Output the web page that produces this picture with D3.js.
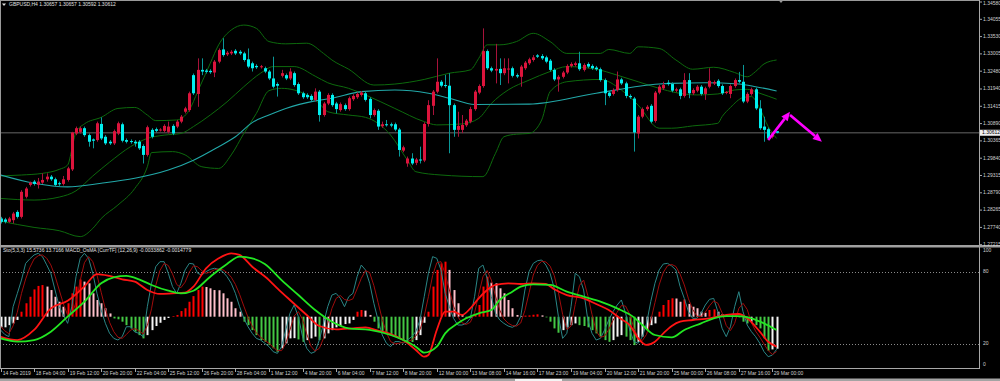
<!DOCTYPE html>
<html>
<head>
<meta charset="utf-8">
<script src="https://cdn.jsdelivr.net/npm/d3@7"></script>
<style>
  html, body { margin: 0; padding: 0; background: #000; overflow: hidden; }
  svg { display: block; }
  text { font-family: "Liberation Sans", Arial, sans-serif; }
</style>
</head>
<body>
<svg id="chart" width="1000" height="381"></svg>
<script>
// ---- candles, GBPUSD H4 (bar index 0 = 14 Feb 2019 20:00, 185 = 29 Mar 04:00)
const opens = [
  1.2801,1.2798,1.2791,1.2796,1.2821,1.2806,1.2867,1.2903,1.2913,1.2903,
  1.2910,1.2920,1.2928,1.2920,1.2908,1.2906,1.2918,1.2950,1.3059,1.3064,
  1.3075,1.3054,1.3041,1.3039,1.3088,1.3049,1.3034,1.3029,1.3059,1.3087,
  1.3039,1.3036,1.3034,1.3034,1.3021,1.2994,1.3070,1.3072,1.3069,1.3067,
  1.3064,1.3082,1.3080,1.3095,1.3125,1.3130,1.3236,1.3179,1.3252,1.3250,
  1.3249,1.3244,1.3277,1.3314,1.3299,1.3302,1.3310,1.3307,1.3302,1.3284,
  1.3272,1.3264,1.3261,1.3257,1.3247,1.3226,1.3209,1.3234,1.3236,1.3226,
  1.3242,1.3209,1.3181,1.3176,1.3173,1.3161,1.3186,1.3115,1.3150,1.3176,
  1.3150,1.3130,1.3145,1.3133,1.3163,1.3169,1.3176,1.3181,1.3164,1.3115,
  1.3128,1.3081,1.3087,1.3087,1.3087,1.3071,1.3007,1.2968,1.2983,1.2970,
  1.2980,1.2977,1.3088,1.3143,1.3186,1.3216,1.3206,1.3204,1.3145,1.3070,
  1.3070,1.3084,1.3095,1.3133,1.3183,1.3203,1.3309,1.3257,1.3250,1.3255,
  1.3242,1.3253,1.3257,1.3236,1.3231,1.3257,1.3272,1.3282,1.3296,1.3294,
  1.3290,1.3280,1.3252,1.3223,1.3231,1.3244,1.3264,1.3267,1.3272,1.3252,
  1.3270,1.3264,1.3259,1.3254,1.3221,1.3183,1.3179,1.3191,1.3223,1.3211,
  1.3173,1.3165,1.3059,1.3110,1.3133,1.3143,1.3097,1.3183,1.3196,1.3213,
  1.3209,1.3189,1.3193,1.3173,1.3221,1.3181,1.3189,1.3201,1.3179,1.3201,
  1.3211,1.3219,1.3203,1.3183,1.3179,1.3203,1.3221,1.3216,1.3156,1.3179,
  1.3193,1.3135,1.3080,1.3072,1.3049,1.30657
];
const highs = [
  1.2806,1.2803,1.2806,1.2821,1.2826,1.2887,1.2897,1.2913,1.2918,1.2924,
  1.2938,1.2938,1.2933,1.2925,1.2913,1.2930,1.2958,1.3064,1.3080,1.3080,
  1.3080,1.3059,1.3044,1.3095,1.3108,1.3054,1.3039,1.3071,1.3095,1.3092,
  1.3044,1.3041,1.3039,1.3039,1.3026,1.3083,1.3075,1.3077,1.3075,1.3087,
  1.3095,1.3087,1.3100,1.3115,1.3140,1.3186,1.3241,1.3287,1.3287,1.3255,
  1.3254,1.3282,1.3317,1.3348,1.3309,1.3312,1.3315,1.3312,1.3307,1.3317,
  1.3277,1.3269,1.3267,1.3262,1.3252,1.3292,1.3214,1.3252,1.3241,1.3257,
  1.3247,1.3214,1.3186,1.3181,1.3178,1.3196,1.3191,1.3155,1.3181,1.3181,
  1.3155,1.3153,1.3150,1.3171,1.3178,1.3184,1.3188,1.3186,1.3169,1.3135,
  1.3133,1.3095,1.3100,1.3092,1.3092,1.3076,1.3022,1.2989,1.2999,1.2985,
  1.3019,1.3093,1.3160,1.3191,1.3287,1.3221,1.3237,1.3242,1.3150,1.3125,
  1.3115,1.3103,1.3140,1.3191,1.3208,1.3378,1.3314,1.3262,1.3331,1.3287,
  1.3287,1.3287,1.3262,1.3241,1.3267,1.3279,1.3289,1.3297,1.3300,1.3300,
  1.3295,1.3285,1.3257,1.3236,1.3249,1.3269,1.3275,1.3277,1.3307,1.3272,
  1.3275,1.3269,1.3264,1.3259,1.3226,1.3188,1.3196,1.3247,1.3228,1.3216,
  1.3178,1.3170,1.3115,1.3138,1.3145,1.3148,1.3188,1.3206,1.3216,1.3221,
  1.3214,1.3198,1.3198,1.3242,1.3242,1.3196,1.3206,1.3206,1.3201,1.3257,
  1.3220,1.3224,1.3208,1.3188,1.3208,1.3226,1.3246,1.3267,1.3184,1.3198,
  1.3198,1.3160,1.3110,1.3077,1.3064,1.30657
];
const lows = [
  1.2786,1.2786,1.2788,1.2786,1.2801,1.2801,1.2862,1.2898,1.2901,1.2892,
  1.2906,1.2913,1.2915,1.2898,1.2900,1.2901,1.2913,1.2945,1.3054,1.3059,
  1.3049,1.3019,1.3014,1.3034,1.3039,1.3024,1.3024,1.3024,1.3054,1.3032,
  1.3029,1.3028,1.3019,1.3009,1.2968,1.2989,1.3044,1.3062,1.3065,1.3062,
  1.3059,1.3054,1.3075,1.3090,1.3120,1.3125,1.3176,1.3140,1.3236,1.3241,
  1.3240,1.3230,1.3272,1.3292,1.3294,1.3297,1.3297,1.3297,1.3277,1.3257,
  1.3247,1.3255,1.3256,1.3242,1.3221,1.3196,1.3171,1.3229,1.3221,1.3221,
  1.3201,1.3176,1.3164,1.3164,1.3156,1.3156,1.3095,1.3110,1.3145,1.3140,
  1.3120,1.3125,1.3128,1.3128,1.3158,1.3164,1.3171,1.3156,1.3105,1.3110,
  1.3070,1.3076,1.3080,1.3078,1.3066,1.2989,1.3002,1.2958,1.2963,1.2963,
  1.2968,1.2972,1.3080,1.3115,1.3181,1.3199,1.3198,1.2999,1.3049,1.3049,
  1.3060,1.3079,1.3090,1.3128,1.3178,1.3198,1.3252,1.3245,1.3211,1.3206,
  1.3236,1.3211,1.3229,1.3227,1.3201,1.3252,1.3267,1.3277,1.3288,1.3282,
  1.3272,1.3247,1.3218,1.3186,1.3226,1.3239,1.3259,1.3262,1.3249,1.3247,
  1.3257,1.3252,1.3249,1.3216,1.3145,1.3168,1.3174,1.3186,1.3206,1.3166,
  1.3164,1.3004,1.3044,1.3105,1.3128,1.3090,1.3092,1.3178,1.3191,1.3204,
  1.3184,1.3184,1.3163,1.3168,1.3166,1.3176,1.3184,1.3174,1.3161,1.3196,
  1.3206,1.3198,1.3176,1.3178,1.3166,1.3198,1.3211,1.3151,1.3151,1.3174,
  1.3130,1.3070,1.3034,1.3039,1.3044,1.30592
];
const closes = [
  1.2791,1.2791,1.2801,1.2816,1.2806,1.2882,1.2892,1.2910,1.2906,1.2913,
  1.2918,1.2928,1.2920,1.2903,1.2905,1.2920,1.2953,1.3062,1.3075,1.3075,
  1.3054,1.3034,1.3037,1.3090,1.3044,1.3029,1.3029,1.3066,1.3090,1.3037,
  1.3034,1.3033,1.3029,1.3014,1.2994,1.3078,1.3049,1.3067,1.3071,1.3082,
  1.3080,1.3059,1.3095,1.3110,1.3135,1.3181,1.3181,1.3252,1.3247,1.3246,
  1.3245,1.3277,1.3312,1.3297,1.3304,1.3307,1.3302,1.3302,1.3282,1.3262,
  1.3257,1.3260,1.3263,1.3247,1.3226,1.3201,1.3204,1.3242,1.3226,1.3247,
  1.3206,1.3181,1.3169,1.3169,1.3161,1.3186,1.3115,1.3150,1.3176,1.3145,
  1.3133,1.3148,1.3133,1.3166,1.3173,1.3179,1.3183,1.3161,1.3115,1.3130,
  1.3080,1.3087,1.3085,1.3083,1.3071,1.3009,1.3017,1.2983,1.2968,1.2980,
  1.2977,1.3088,1.3145,1.3186,1.3216,1.3204,1.3203,1.3145,1.3070,1.3082,
  1.3085,1.3098,1.3133,1.3186,1.3203,1.3309,1.3257,1.3250,1.3255,1.3242,
  1.3257,1.3256,1.3234,1.3232,1.3262,1.3274,1.3284,1.3290,1.3292,1.3287,
  1.3277,1.3252,1.3223,1.3231,1.3244,1.3264,1.3270,1.3272,1.3254,1.3267,
  1.3262,1.3257,1.3254,1.3221,1.3181,1.3173,1.3191,1.3223,1.3211,1.3173,
  1.3169,1.3062,1.3110,1.3133,1.3140,1.3095,1.3183,1.3201,1.3206,1.3209,
  1.3189,1.3193,1.3173,1.3221,1.3181,1.3191,1.3201,1.3179,1.3196,1.3219,
  1.3215,1.3203,1.3181,1.3185,1.3203,1.3221,1.3216,1.3156,1.3179,1.3193,
  1.3135,1.3075,1.3070,1.3044,1.3059,1.30612
];

// ---- overlays, read as [bar, price]
const maLine = [[0,1.2933],[8,1.2908],[16,1.2897],[24,1.2908],[32,1.2923],[40,1.2948],[46,1.2978],
  [52,1.3019],[56,1.3049],[60,1.3092],[64,1.3115],[68,1.3135],[75,1.3158],[79,1.3166],[86,1.3186],
  [94,1.3191],[102,1.3181],[107,1.3166],[113,1.3147],[126,1.3148],[142,1.3181],[157,1.3209],
  [160,1.3211],[168,1.3213],[176,1.3209],[180,1.3201],[185,1.3188]];
const bbUpper = [[0,1.2930],[5,1.2933],[10,1.2938],[14,1.2950],[16,1.2963],[17,1.3010],[18,1.3064],
  [20,1.3088],[24,1.3108],[28,1.3135],[32,1.3138],[35,1.3115],[37,1.3098],[42,1.3100],[45,1.3130],
  [47,1.3186],[50,1.3272],[52,1.3328],[55,1.3373],[58,1.3388],[61,1.3378],[64,1.3338],[68,1.3331],
  [73,1.3333],[77,1.3302],[79,1.3282],[83,1.3254],[89,1.3206],[94,1.3209],[101,1.3223],[107,1.3242],
  [112,1.3252],[114,1.3287],[116,1.3328],[119,1.3328],[123,1.3338],[127,1.3363],[131,1.3338],
  [135,1.3302],[143,1.3302],[145,1.3314],[150,1.3302],[152,1.3322],[157,1.3317],[161,1.3282],
  [165,1.3254],[170,1.3260],[175,1.3244],[178,1.3231],[180,1.3247],[182,1.3270],[185,1.3282]];
const bbMiddle = [[0,1.2862],[8,1.2857],[14,1.2866],[18,1.2885],[22,1.2930],[26,1.2972],[31,1.3019],
  [35,1.3044],[39,1.3054],[43,1.3059],[46,1.3080],[50,1.3115],[54,1.3155],[58,1.3201],[62,1.3242],
  [65,1.3262],[70,1.3262],[75,1.3233],[78,1.3213],[83,1.3196],[87,1.3176],[94,1.3135],[101,1.3095],
  [104,1.3085],[110,1.3088],[114,1.3105],[117,1.3150],[121,1.3191],[126,1.3221],[131,1.3247],
  [135,1.3262],[142,1.3254],[147,1.3236],[152,1.3216],[157,1.3196],[161,1.3183],[166,1.3176],
  [171,1.3179],[175,1.3191],[178,1.3193],[181,1.3181],[185,1.3163]];
const bbLower = [[0,1.2793],[8,1.2774],[14,1.2764],[19,1.2746],[22,1.2771],[24,1.2801],[28,1.2842],
  [32,1.2892],[35,1.2958],[36,1.3001],[41,1.3004],[44,1.2994],[48,1.2958],[52,1.2953],[55,1.2994],
  [58,1.3059],[61,1.3120],[64,1.3189],[67,1.3196],[70,1.3191],[76,1.3150],[78,1.3125],[83,1.3115],
  [87,1.3108],[93,1.3054],[97,1.2978],[99,1.2943],[105,1.2933],[115,1.2928],[118,1.2999],[120,1.3049],
  [123,1.3057],[126,1.3059],[129,1.3100],[131,1.3186],[135,1.3216],[143,1.3223],[148,1.3191],
  [152,1.3145],[157,1.3075],[160,1.3075],[165,1.3082],[171,1.3090],[172,1.3110],[174,1.3138],
  [177,1.3168],[179,1.3171],[181,1.3135],[183,1.3080],[185,1.3044]];
// hand drawn arrows: [fromBar, fromPrice, toBar, toPrice]
const arrows = [[183, 1.3039, 188.2, 1.3125], [188.2, 1.3115, 195.8, 1.3034]];

const priceTicks = [1.34580,1.34055,1.33530,1.33005,1.32480,1.31940,1.31415,1.30890,
  1.30365,1.29840,1.29315,1.28790,1.28265,1.27740,1.27215];
const lastPrice = 1.30612;

// ---- indicator window
const stochK = [
  31.7,28,26.1,51.1,62,73.3,87.2,91,94.2,95.6,
  92.8,86,78.9,65,51.1,44.2,37.2,51.1,76.1,91.4,
  95.6,91.4,78.9,62.2,48.3,37.2,28.9,24.7,23.3,26.1,
  34.4,34.4,30,28.9,26.1,51.1,70.6,84.4,88.6,88.6,
  78.9,67.8,62.2,70.6,81.7,87.2,86.7,78.9,77.5,80.3,
  82.2,83.1,82.2,80.3,76.1,70.6,62.2,51.1,41.4,34.4,
  28.9,24.7,23.3,20.6,17.8,13.6,12.2,17.8,31.7,45.6,
  52.5,42.8,26.1,16.4,12.2,13.6,23.3,37.2,51.1,60.8,
  62.2,58.1,51.1,59.4,62.2,76.1,85.8,81.7,70.6,53.9,
  40,27.5,20.6,17.8,22,22,20.6,23.3,26.1,30.3,
  40,59.4,78.9,92.8,91.4,81.7,62.2,51.1,41.4,35.8,
  35.8,37.2,41.4,59.4,83.1,85.8,74.7,59.4,45.6,40,
  37.2,35,33.9,35.8,42.8,65,80.3,87.2,89.4,90,
  85.8,78.9,66.4,42.8,24.7,28.9,51.1,78.9,76.1,65,
  40,28.9,23.3,24.7,31.7,40,46.9,52.5,56.7,45.6,
  31.7,22,20.6,26.1,37.2,55.3,70.6,81.7,86.7,87.2,
  85,81.7,67.8,58,46.9,41.4,41.4,45.6,52.5,57.2,
  58,46.9,33.1,26.1,34.4,51.1,63.6,46.9,35.8,30.3,
  26.1,20.6,13.6,9.4,10.8,15.57
];
const stochD = [
  35,31,28.6,35.1,46.4,62.1,74.2,83.8,90.8,93.6,
  94.2,91.5,85.9,76.6,65,53.4,44.2,44.2,54.8,72.9,
  87.7,92.8,88.6,77.5,63.1,49.2,38.1,30.3,25.6,24.7,
  27.9,31.6,32.9,31.1,28.3,35.4,49.3,68.7,81.2,87.2,
  85.4,78.4,69.6,66.9,71.5,79.8,85.2,84.3,81,78.9,
  80,81.9,82.5,81.9,79.5,75.7,69.6,61.3,51.6,42.3,
  34.9,29.3,25.6,22.9,20.6,17.3,14.5,14.5,20.6,31.7,
  43.3,47,40.5,28.4,18.2,14.1,16.4,24.7,37.2,49.7,
  58,60.4,57.1,56.2,57.6,65.9,74.7,81.2,79.4,68.7,
  54.8,40.5,29.4,22,20.1,20.6,21.5,22,23.3,26.6,
  32.1,43.2,59.4,77,87.7,88.6,78.4,65,51.6,42.8,
  37.7,36.3,38.1,46,61.3,76.1,81.2,73.3,59.9,48.3,
  40.9,37.4,35.4,34.9,37.5,47.9,62.7,77.5,85.6,88.9,
  88.4,84.9,77,62.7,44.6,32.1,34.9,52.9,68.7,73.3,
  60.4,44.6,30.7,25.6,26.6,32.1,39.5,46.5,52,51.6,
  44.7,33.1,24.8,22.9,28,39.5,54.4,69.2,79.7,85.2,
  86.3,84.6,78.2,69.2,57.6,48.8,43.2,42.8,46.5,51.8,
  55.9,54,46,35.4,31.2,37.2,49.7,53.9,48.8,37.7,
  30.7,25.7,20.1,14.5,11.3,13.72
];
const osma = [
  -0.00049,-0.00049,-0.00039,-0.00031,-0.00015,0.00023,0.00062,0.00092,0.00126,0.00142,
  0.00146,0.00139,0.00123,0.00092,0.00069,0.00046,0.00062,0.00108,0.00139,0.00172,
  0.00162,0.00154,0.00108,0.00077,0.00062,0.00039,0.00015,-0.00008,-0.00012,-0.00023,
  -0.00039,-0.00054,-0.00069,-0.00085,-0.00100,-0.00085,-0.00062,-0.00043,-0.00028,-0.00015,
  -0.00006,0.00003,0.00008,0.00026,0.00039,0.00069,0.00095,0.00123,0.00139,0.00137,
  0.00131,0.00123,0.00122,0.00108,0.00085,0.00069,0.00039,0.00023,-0.00023,-0.00039,
  -0.00062,-0.00085,-0.00108,-0.00116,-0.00131,-0.00146,-0.00162,-0.00146,-0.00123,-0.00100,
  -0.00099,-0.00105,-0.00116,-0.00108,-0.00100,-0.00092,-0.00108,-0.00100,-0.00077,-0.00062,
  -0.00049,-0.00043,-0.00034,-0.00031,-0.00015,0.00023,0.00031,0.00028,0.00008,-0.00023,
  -0.00054,-0.00069,-0.00077,-0.00085,-0.00092,-0.00100,-0.00108,-0.00116,-0.00117,-0.00108,
  -0.00085,-0.00028,0.00023,0.00139,0.00216,0.00246,0.00254,0.00216,0.00123,0.00062,
  0.00012,-0.00008,-0.00005,0.00012,0.00054,0.00139,0.00185,0.00157,0.00154,0.00131,
  0.00108,0.00077,0.00039,0.00008,0.00003,0.00005,0.00006,0.00009,0.00011,0.00006,
  -0.00003,-0.00023,-0.00054,-0.00074,-0.00062,-0.00049,-0.00039,-0.00031,-0.00039,-0.00043,
  -0.00049,-0.00062,-0.00077,-0.00092,-0.00108,-0.00116,-0.00108,-0.00092,-0.00085,-0.00092,
  -0.00108,-0.00131,-0.00116,-0.00092,-0.00062,-0.00039,-0.00031,0.00023,0.00054,0.00077,
  0.00085,0.00084,0.00069,0.00080,0.00059,0.00046,0.00039,0.00023,0.00018,0.00031,
  0.00034,0.00023,0.00012,0.00006,0.00003,0.00006,-0.00003,-0.00023,-0.00031,-0.00023,
  -0.00039,-0.00054,-0.00100,-0.00157,-0.00151,-0.0014779
];
// the two smoothed MACD lines, [bar, value] on the 0..100 window scale
const macdRed = [[0,26.1],[4,23.3],[8,31.7],[12,49.7],[16,56],[20,68],[23,78.3],[26,76.7],
  [29,73.9],[32,72],[35,65],[38,61.7],[41,62.2],[44,62.8],[46,67.8],[49,83.1],[52,91.4],[55,95.6],
  [57,94.2],[60,84.4],[64,73.3],[66,66.4],[69,56.7],[73,44.2],[76,35],[80,32.2],[84,33.1],[87,33.9],
  [90,31.1],[93,28.3],[96,23.3],[99,15],[101,9.4],[102,10.8],[104,31.7],[106,47],[108,47],[110,44.2],
  [112,49.7],[114,58.1],[116,65],[118,69.2],[121,70.6],[124,70],[127,70.6],[130,70],[132,65.6],
  [135,60.8],[139,58.1],[142,53.3],[145,48.3],[148,40.6],[150,35.8],[152,24.7],[154,19.2],[156,21.9],
  [158,28.9],[160,35],[162,38.6],[165,40],[169,41.4],[173,44.2],[176,45],[178,41.4],[181,30.3],
  [183,21.9],[185,17.8]];
const macdGreen = [[0,24.7],[4,22],[8,23.3],[12,30.3],[16,42.8],[20,55.3],[24,70.6],[27,75.6],
  [30,76.7],[33,73.9],[36,69.2],[40,64.4],[43,62.2],[46,64.4],[50,76.1],[54,86.7],[57,92.8],[60,91.4],
  [63,86.7],[67,73.3],[71,60.8],[75,48.3],[79,38.6],[83,33.1],[88,31.7],[93,27.5],[96,23.3],[99,17.8],
  [101,12.8],[104,17.8],[106,28.9],[109,37.2],[111,41.4],[114,45.6],[117,48.3],[119,56.7],[122,63.6],
  [124,67.8],[127,69.7],[131,69.2],[135,63.6],[139,59.4],[143,55.3],[147,49.7],[151,42.2],[153,35.8],
  [156,27.5],[160,25.5],[163,31.7],[167,37.2],[170,41.4],[173,43.3],[176,43.3],[179,41.4],[182,37.2],
  [185,31.7]];
const levels = [80, 20];
const levelLabels = [100, 80, 20, 0];

// ---- time axis
const timeBars = [0,8,16,24,32,40,48,56,64,72,80,88,96,104,112,120,128,136,144,152,160,168,176,184];
const timeLabels = ["14 Feb 2019","18 Feb 04:00","19 Feb 12:00","20 Feb 20:00","22 Feb 04:00",
  "25 Feb 12:00","26 Feb 20:00","28 Feb 04:00","1 Mar 12:00","4 Mar 20:00","6 Mar 04:00",
  "7 Mar 12:00","8 Mar 20:00","12 Mar 00:00","13 Mar 08:00","14 Mar 16:00","17 Mar 23:00",
  "19 Mar 04:00","20 Mar 12:00","21 Mar 20:00","25 Mar 00:00","26 Mar 08:00","27 Mar 16:00",
  "29 Mar 00:00"];

const headerText = "GBPUSD,H4  1.30657 1.30657 1.30592 1.30612";
const indText = "Sto(5,3,3) 15.5736 13.7166  MACD_OsMA [CurrTF] (12,26,9) -0.0033862 -0.0014779";

// ---------------------------------------------------------------
const axisX = 979;
const mainBottom = 245;
const indTop = 248, indBottom = 368;
const fontSize = 5;

const svg = d3.select("#chart");
svg.append("rect").attr("width", 1000).attr("height", 381).attr("fill", "#000");

const x = d3.scaleLinear().domain([0, 185]).range([0.5, 776.6]);
const yP = d3.scaleLinear().domain([1.27215, 1.34580]).range([244.7, 2]);
const yI = d3.scaleLinear().domain([0, 100]).range([indBottom, indTop]);
const yO = d3.scaleLinear().domain([-0.0015, 0.0015]).range([349.2, 284.2]);

const defs = svg.append("defs");
defs.append("clipPath").attr("id", "clipMain")
  .append("rect").attr("x", 1).attr("y", 1).attr("width", axisX - 1).attr("height", mainBottom - 1);
defs.append("clipPath").attr("id", "clipInd")
  .append("rect").attr("x", 1).attr("y", indTop).attr("width", axisX - 1).attr("height", indBottom - indTop);

// ---- main window
const gMain = svg.append("g").attr("clip-path", "url(#clipMain)");

// bid line
gMain.append("line")
  .attr("x1", 0).attr("x2", axisX)
  .attr("y1", yP(lastPrice)).attr("y2", yP(lastPrice))
  .attr("stroke", "#444").attr("stroke-width", 1.6);

const priceCurve = d3.line().x(d => x(d[0])).y(d => yP(d[1])).curve(d3.curveMonotoneX);

[bbUpper, bbMiddle, bbLower].forEach(band => {
  gMain.append("path").datum(band)
    .attr("d", priceCurve)
    .attr("fill", "none").attr("stroke", "#0d6a0d").attr("stroke-width", 1);
});
gMain.append("path").datum(maLine)
  .attr("d", priceCurve)
  .attr("fill", "none").attr("stroke", "#22a8a8").attr("stroke-width", 1.1);

// candles
const bars = d3.range(closes.length);
const isUp = i => closes[i] > opens[i];
const cx = i => Math.round(x(i));

gMain.selectAll("line.wick").data(bars).join("line")
  .attr("class", "wick")
  .attr("x1", i => cx(i) + 0.5).attr("x2", i => cx(i) + 0.5)
  .attr("y1", i => yP(highs[i])).attr("y2", i => yP(lows[i]))
  .attr("stroke", i => isUp(i) ? "#a8123a" : "#0a9898")
  .attr("stroke-width", 1);

gMain.selectAll("rect.body").data(bars).join("rect")
  .attr("class", "body")
  .attr("x", i => cx(i) - 1)
  .attr("width", 3)
  .attr("y", i => yP(Math.max(opens[i], closes[i])))
  .attr("height", i => Math.max(1, Math.abs(yP(opens[i]) - yP(closes[i]))))
  .attr("fill", i => isUp(i) ? "#dc143c" : "#00f0f0");

// arrows
arrows.forEach(a => {
  const x1 = x(a[0]), y1 = yP(a[1]), x2 = x(a[2]), y2 = yP(a[3]);
  const ang = Math.atan2(y2 - y1, x2 - x1);
  const hl = 9, hw = 4;
  const bx = x2 - hl * Math.cos(ang), by = y2 - hl * Math.sin(ang);
  gMain.append("line")
    .attr("x1", x1).attr("y1", y1).attr("x2", bx).attr("y2", by)
    .attr("stroke", "#ff00ff").attr("stroke-width", 2.6);
  gMain.append("polygon")
    .attr("points", [
      [x2, y2],
      [bx + hw * Math.sin(ang), by - hw * Math.cos(ang)],
      [bx - hw * Math.sin(ang), by + hw * Math.cos(ang)]
    ].map(p => p.join(",")).join(" "))
    .attr("fill", "#ff00ff");
});

// header
svg.append("path").attr("d", "M2,3.5 L6,3.5 L4,6 Z").attr("fill", "#ddd");
svg.append("text").attr("x", 9).attr("y", 5).attr("dominant-baseline", "middle")
  .attr("font-size", fontSize).attr("fill", "#e0e0e0").text(headerText);

// chart shift marker
svg.append("path").attr("d", "M778.5,0 L783.5,0 L781,3 Z").attr("fill", "#9a9a9a");

// ---- indicator window
const gInd = svg.append("g").attr("clip-path", "url(#clipInd)");

levels.forEach(v => {
  gInd.append("line")
    .attr("x1", 0).attr("x2", axisX)
    .attr("y1", Math.round(yI(v)) + 0.5).attr("y2", Math.round(yI(v)) + 0.5)
    .attr("stroke", "#8a8a8a").attr("stroke-width", 1).attr("stroke-dasharray", "1,2");
});

const osmaColor = i => {
  const v = osma[i], prev = i > 0 ? osma[i - 1] : v;
  if (v >= 0) return v > prev ? "#ff0000" : "#ffc0cb";
  return v < prev ? "#44c844" : "#f4f4f4";
};
gInd.selectAll("rect.osma").data(bars).join("rect")
  .attr("class", "osma")
  .attr("x", i => cx(i) - 0.5)
  .attr("width", 2)
  .attr("y", i => Math.min(yO(0), yO(osma[i])))
  .attr("height", i => Math.abs(yO(osma[i]) - yO(0)))
  .attr("fill", osmaColor);

const perBar = d3.line().x((d, i) => x(i)).y(d => yI(d));
gInd.append("path").datum(stochK).attr("d", perBar)
  .attr("fill", "none").attr("stroke", "#2a8686").attr("stroke-width", 1);
gInd.append("path").datum(stochD).attr("d", perBar)
  .attr("fill", "none").attr("stroke", "#a00c0c").attr("stroke-width", 1);

const smoothInd = d3.line().x(d => x(d[0])).y(d => yI(d[1])).curve(d3.curveMonotoneX);
gInd.append("path").datum(macdRed).attr("d", smoothInd)
  .attr("fill", "none").attr("stroke", "#ff1414").attr("stroke-width", 1.8);
gInd.append("path").datum(macdGreen).attr("d", smoothInd)
  .attr("fill", "none").attr("stroke", "#22e622").attr("stroke-width", 1.8);

svg.append("text").attr("x", 3).attr("y", 251).attr("dominant-baseline", "middle")
  .attr("font-size", fontSize).attr("fill", "#e0e0e0").text(indText);

// ---- frames
const frame = "#9a9a9a";
svg.append("line").attr("x1", 0).attr("x2", axisX).attr("y1", 0.5).attr("y2", 0.5).attr("stroke", frame);
svg.append("line").attr("x1", 0.5).attr("x2", 0.5).attr("y1", 0).attr("y2", indBottom).attr("stroke", frame);
svg.append("line").attr("x1", axisX + 0.5).attr("x2", axisX + 0.5).attr("y1", 0).attr("y2", indBottom + 1)
  .attr("stroke", "#a8a8a8");
svg.append("rect").attr("x", 0).attr("y", mainBottom).attr("width", 1000).attr("height", 2.5).attr("fill", "#a0a0a0");
svg.append("line").attr("x1", 0).attr("x2", axisX + 1).attr("y1", indBottom + 0.5).attr("y2", indBottom + 0.5)
  .attr("stroke", "#a8a8a8");

// ---- price axis
const gPA = svg.append("g");
gPA.selectAll("line").data(priceTicks).join("line")
  .attr("x1", axisX).attr("x2", axisX + 3)
  .attr("y1", d => yP(d)).attr("y2", d => yP(d))
  .attr("stroke", "#a8a8a8");
gPA.selectAll("text").data(priceTicks).join("text")
  .attr("x", axisX + 4).attr("y", d => Math.max(yP(d), 3.5))
  .attr("dominant-baseline", "middle")
  .attr("font-size", fontSize).attr("fill", "#cfcfcf")
  .text(d => d.toFixed(5));

svg.append("rect").attr("x", axisX + 1).attr("y", yP(lastPrice) - 3).attr("width", 21).attr("height", 6)
  .attr("fill", "#efefef");
svg.append("text").attr("x", axisX + 3).attr("y", yP(lastPrice) + 0.2)
  .attr("dominant-baseline", "middle").attr("font-size", fontSize).attr("fill", "#000")
  .text(lastPrice.toFixed(5));

// ---- indicator axis
const indLabelY = v => Math.min(Math.max(yI(v), indTop + 3), indBottom - 3);
svg.selectAll("text.lvl").data(levelLabels).join("text")
  .attr("class", "lvl")
  .attr("x", axisX + 4).attr("y", v => indLabelY(v))
  .attr("dominant-baseline", "middle")
  .attr("font-size", fontSize).attr("fill", "#cfcfcf")
  .text(v => v);

// ---- time axis
const gTA = svg.append("g");
gTA.selectAll("line").data(timeBars).join("line")
  .attr("x1", b => cx(b) + 0.5).attr("x2", b => cx(b) + 0.5)
  .attr("y1", indBottom).attr("y2", indBottom + 4)
  .attr("stroke", "#a8a8a8");
gTA.selectAll("text").data(timeBars).join("text")
  .attr("x", b => cx(b) + 1.8).attr("y", 374)
  .attr("dominant-baseline", "middle")
  .attr("font-size", fontSize).attr("fill", "#cfcfcf")
  .text((b, i) => timeLabels[i]);

// bottom tab strip
svg.append("rect").attr("x", 0).attr("y", 378.5).attr("width", 1000).attr("height", 3).attr("fill", "#a3a3a3");
svg.append("rect").attr("x", 515).attr("y", 379).attr("width", 47).attr("height", 2).attr("fill", "#f4f4f4");
</script>
</body>
</html>
